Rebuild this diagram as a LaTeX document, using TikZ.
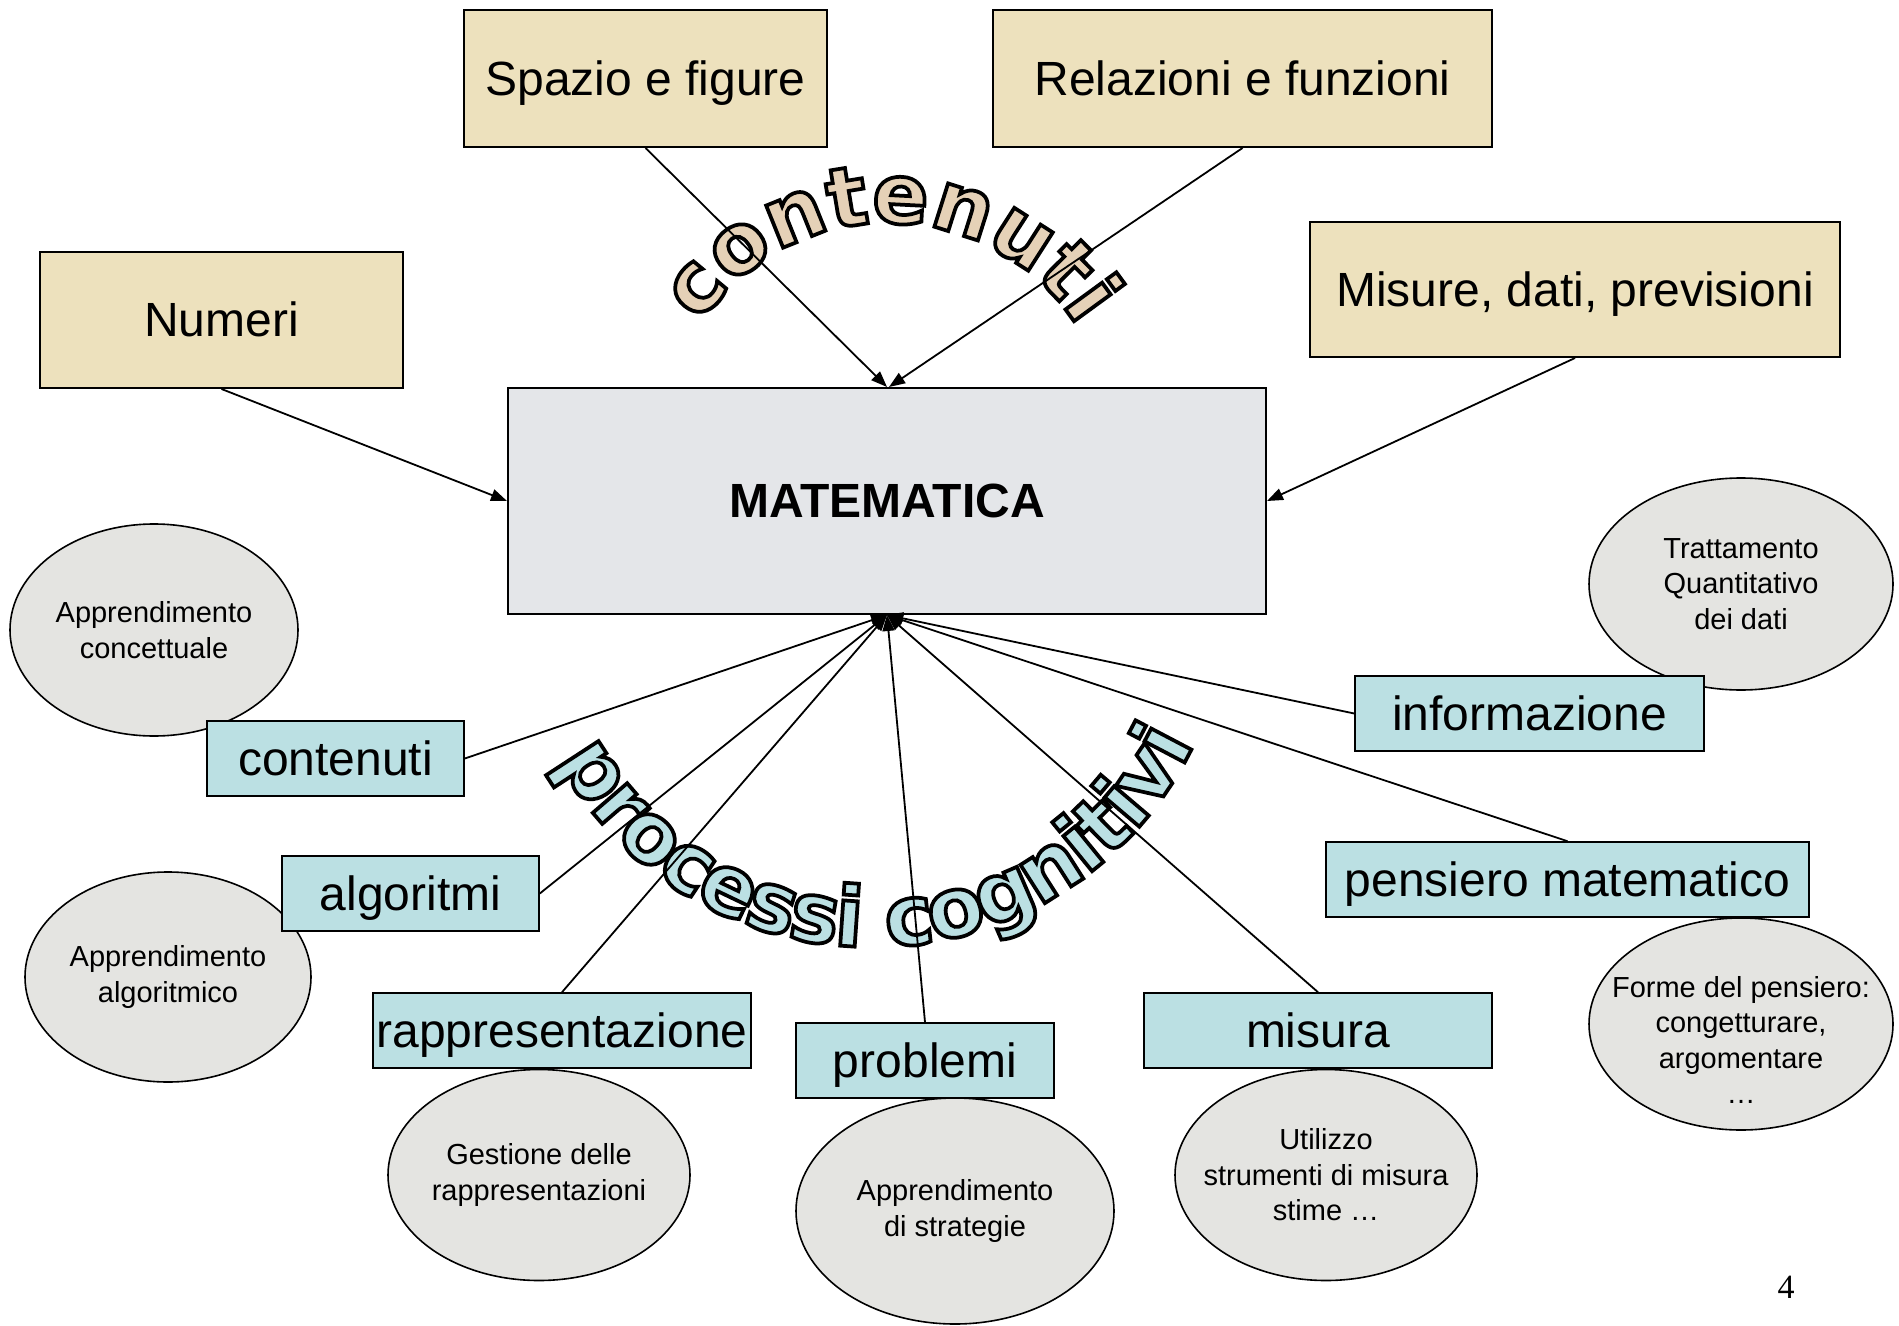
\documentclass[tikz,border=0pt]{standalone}
\usepackage{fontspec}
\setmainfont{Liberation Sans}
\newfontfamily\wafont{DejaVu Sans}[BoldFont=DejaVu Sans Bold, BoldFeatures={FakeBold=4.5}]
\newfontfamily\pnfont{Liberation Serif}
\usetikzlibrary{arrows.meta,shapes.geometric}
\definecolor{cparch}{RGB}{237,225,189}
\definecolor{cmarble}{RGB}{228,230,233}
\definecolor{cgranite}{RGB}{228,228,225}
\definecolor{cteal}{RGB}{187,224,227}
\definecolor{cwatan}{RGB}{229,209,183}
\definecolor{cwateal}{RGB}{187,224,227}
\newcommand{\waglyph}[1]{\special{pdf:literal direct 0 0 0 RG}#1}
\tikzset{
  parchbox/.style={draw=black, line width=1pt, fill=cparch, inner sep=0pt, text height=21.7pt, text depth=5.1pt, font=\fontsize{24}{28}\selectfont},
  matbox/.style={draw=black, line width=1pt, fill=cmarble, inner sep=0pt, text height=21.7pt, text depth=5.1pt, font=\bfseries\fontsize{24}{28}\selectfont},
  tealnode/.style={draw=black, line width=0.8pt, fill=cteal, inner sep=0pt, minimum height=37.5pt, text height=21.7pt, text depth=5.1pt, font=\fontsize{24}{28}\selectfont},
  ell/.style={ellipse, draw=black, line width=0.8pt, fill=cgranite, inner sep=0pt},
  etext/.style={align=center, inner sep=0pt, font=\fontsize{14.5}{17.75}\selectfont},
  conn/.style={draw=black, line width=0.9pt, -{Triangle[length=8pt,width=6pt]}},
  waletter/.style={anchor=base, inner sep=0pt, font=\wafont\bfseries\fontsize{41.5}{41.5}\selectfont},
}
\begin{document}
\begin{tikzpicture}[x=0.5pt,y=-0.5pt]
\fill[white] (0,0) rectangle (1899,1326);
\useasboundingbox (0,0) rectangle (1899,1326);

% ellipses
\node[ell, minimum width=144pt, minimum height=106pt,
  label={[etext]center:Apprendimento\\concettuale}] (e1) at (154,630) {};
\node[ell, minimum width=143pt, minimum height=105pt,
  label={[etext]center:Apprendimento\\algoritmico}] (e2) at (168,977) {};
\node[ell, minimum width=151pt, minimum height=105.5pt,
  label={[etext]center:Gestione delle\\rappresentazioni}] (e3) at (539,1175) {};
\node[ell, minimum width=159pt, minimum height=113pt,
  label={[etext]center:Apprendimento\\di strategie}] (e4) at (955,1211) {};
\node[ell, minimum width=151pt, minimum height=105.5pt,
  label={[etext]center:Utilizzo\\strumenti di misura\\stime …}] (e5) at (1326,1175) {};
\node[ell, minimum width=152pt, minimum height=106pt,
  label={[etext]center:Trattamento\\Quantitativo\\dei dati}] (e6) at (1741,584) {};
\node[ell, minimum width=152pt, minimum height=106pt,
  label={[etext,yshift=-8pt]center:Forme del pensiero:\\congetturare,\\argomentare\\…}] (e7) at (1741,1024) {};

% word art "contenuti"
\foreach \a/\c [count=\i] in {219.77/c,233.30/o,248.09/n,260.66/t,272.88/e,287.57/n,302.62/u,315.19/t,323.87/i}{
  \node[waletter, text=cwatan, rotate={270-\a}] (ca\i) at ({888+225*cos(\a)},{448+225*sin(\a)}) {\waglyph{\c}};
}
% word art "processi cognitivi"
\foreach \a/\c [count=\i] in {146.91/p,139.24/r,131.74/o,123.62/c,115.54/e,107.46/s,99.90/s,93.95/i,83.59/c,75.46/o,66.55/g,57.48/n,50.78/i,45.57/t,40.35/i,34.04/v,27.72/i}{
  \node[waletter, text=cwateal, rotate={90-\a}] (pa\i) at ({872+357*cos(\a)},{590+357*sin(\a)}) {\waglyph{\c}};
}

% boxes
\node[parchbox, minimum width=181.5pt, minimum height=68.5pt] (spazio) at (645.5,78.5) {Spazio e figure};
\node[parchbox, minimum width=249.5pt, minimum height=68.5pt] (relaz) at (1242.5,78.5) {Relazioni e funzioni};
\node[parchbox, minimum width=181.5pt, minimum height=68pt] (numeri) at (221.5,320) {Numeri};
\node[parchbox, minimum width=265pt, minimum height=67.5pt] (misure) at (1575,289.5) {Misure, dati, previsioni};
\node[matbox, minimum width=379pt, minimum height=113pt] (mat) at (887,501) {MATEMATICA};

\node[tealnode, minimum width=128.5pt] (tcont) at (335.5,758.5) {contenuti};
\node[tealnode, minimum width=128.5pt] (talgo) at (410.5,893.5) {algoritmi};
\node[tealnode, minimum width=189pt] (trapp) at (562,1030.5) {rappresentazione};
\node[tealnode, minimum width=129pt] (tprob) at (925,1060.5) {problemi};
\node[tealnode, minimum width=174pt] (tmis) at (1318,1030.5) {misura};
\node[tealnode, minimum width=174.5pt] (tinfo) at (1529.5,713.5) {informazione};
\node[tealnode, minimum width=241.5pt] (tpens) at (1567.5,879.5) {pensiero matematico};

% connectors
\draw[conn] (spazio.south) -- (mat.north);
\draw[conn] (relaz.south) -- ([xshift=1pt]mat.north);
\draw[conn] (numeri.south) -- (mat.west);
\draw[conn] (misure.south) -- (mat.east);
\draw[conn] (tcont.east) -- (mat.south);
\draw[conn] (talgo.east) -- (mat.south);
\draw[conn] (trapp.north) -- (mat.south);
\draw[conn] (tprob.north) -- (mat.south);
\draw[conn] (tmis.north) -- (mat.south);
\draw[conn] (tinfo.west) -- (mat.south);
\draw[conn] (tpens.north) -- (mat.south);

\node[inner sep=0pt, font=\pnfont\fontsize{17}{20}\selectfont] (pnum) at (1786,1287) {4};
\end{tikzpicture}
\end{document}
